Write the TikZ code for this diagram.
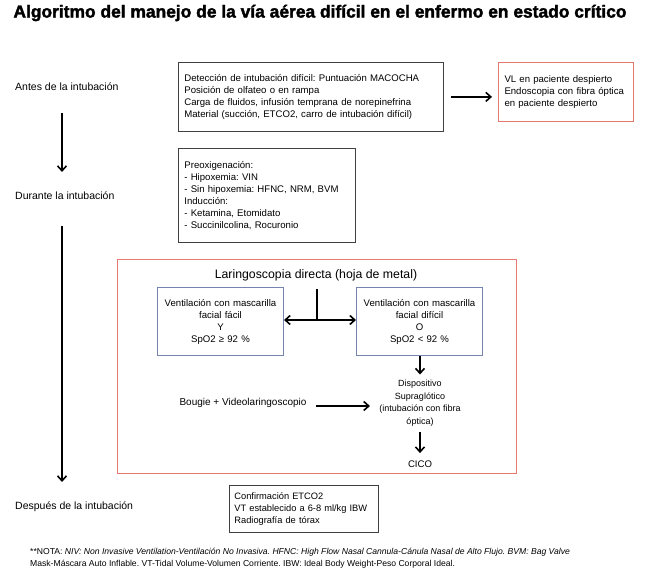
\documentclass[tikz,border=0pt]{standalone}
\usepackage{fontspec}
\setmainfont{Liberation Sans}
\newfontfamily\fuentetitulo[FakeBold=2]{Liberation Sans Bold}
\usepackage{tikz}
\usetikzlibrary{calc}
\usetikzlibrary{arrows.meta}
\frenchspacing

\definecolor{rojocaja}{RGB}{232,120,110}
\definecolor{azulcaja}{RGB}{118,130,178}

\newcommand{\cuerpo}{\fontsize{9.6}{12}\selectfont}

\begin{document}
\begin{tikzpicture}[x=1pt,y=-1pt]
    \tikzstyle{flecha}=[-{Straight Barb[length=5pt,width=9pt]},line width=1.6pt,color=black]
    \tikzstyle{doble flecha}=[{Straight Barb[length=5pt,width=9pt]}-{Straight Barb[length=5pt,width=9pt]},line width=1.6pt,color=black]
    \tikzstyle{linea}=[line width=1.6pt,color=black]
    \tikzstyle{caja}=[draw=black!75,line width=0.8pt,align=left,anchor=north west,inner xsep=6pt,font=\cuerpo]
    \tikzstyle{caja roja}=[style=caja,draw=rojocaja,line width=1pt]
    \tikzstyle{caja azul}=[style=caja,draw=azulcaja,line width=1pt,align=center]
    \tikzstyle{etapa}=[anchor=west,inner xsep=0pt,font=\fontsize{10.5}{12}\selectfont]
    \tikzstyle{texto}=[align=center,font=\cuerpo]

    \useasboundingbox (0,0) rectangle (646,577);

    % Title
    \node[font=\fuentetitulo\fontsize{17.4}{19}\selectfont] (titulo) at (320,13)
        {Algoritmo del manejo de la vía aérea difícil en el enfermo en estado crítico};

    % Stages
    \node[style=etapa] (antes) at (15,87) {Antes de la intubación};
    \node[style=etapa] (durante) at (15,196) {Durante la intubación};
    \node[style=etapa] (despues) at (15,507) {Después de la intubación};

    \draw[style=flecha] ([xshift=47pt,yshift=-26pt]antes.west) -- ([xshift=47pt,yshift=24pt]durante.west);
    \draw[style=flecha] ([xshift=47pt,yshift=-30pt]durante.west) -- ([xshift=47pt,yshift=25pt]despues.west);

    % Before
    \node[style=caja,text width=253pt,minimum height=69pt] (deteccion) at (178,62)
        {Detección de intubación difícil: Puntuación MACOCHA\\
         Posición de olfateo o en rampa\\
         Carga de fluidos, infusión temprana de norepinefrina\\
         Material (succión, ETCO2, carro de intubación difícil)};
    \node[style=caja roja,text width=123pt,minimum height=59pt] (despierto) at (498,62)
        {VL en paciente despierto\\
         Endoscopia con fibra óptica\\
         en paciente despierto};
    \draw[style=flecha,shorten <=7pt,shorten >=6pt] (deteccion.east) -- (deteccion.east -| despierto.west);

    % During
    \node[style=caja,text width=165pt,minimum height=94pt] (induccion) at (178,148)
        {Preoxigenación:\\
         - Hipoxemia: VIN\\
         - Sin hipoxemia: HFNC, NRM, BVM\\
         Inducción:\\
         - Ketamina, Etomidato\\
         - Succinilcolina, Rocuronio};

    \draw[rojocaja,line width=1pt] (117,260) rectangle (516,474);
    \node[font=\fontsize{12.3}{14}\selectfont] (laringo) at (316,275) {Laringoscopia directa (hoja de metal)};

    \node[style=caja azul,text width=114pt,minimum height=68pt] (facil) at (157,287)
        {Ventilación con mascarilla\\ facial fácil\\ Y\\ SpO2 ≥ 92 \%};
    \node[style=caja azul,text width=114pt,minimum height=68pt] (dificil) at (356,287)
        {Ventilación con mascarilla\\ facial difícil\\ O\\ SpO2 < 92 \%};

    \coordinate (union) at (317,320);
    \draw[style=linea] (laringo.south -| union) ++(0,5) -- (union);
    \draw[style=doble flecha] (facil.east |- union) -- (dificil.west |- union);

    \node[style=texto,font=\fontsize{9}{12.5}\selectfont] (supra) at (420,403)
        {Dispositivo\\ Supraglótico\\ (intubación con fibra\\ óptica)};
    \node[font=\fontsize{10}{12}\selectfont] (bougie) at (243,403) {Bougie + Videolaringoscopio};
    \node[style=texto] (cico) at (420,464) {CICO};

    \draw[style=flecha,shorten >=2pt] (dificil.south -| supra.north) -- (supra.north);
    \draw[style=flecha,shorten <=6pt,shorten >=6pt] ([yshift=-3pt]bougie.east) -- ([yshift=-3pt]bougie.east -| supra.west);
    \draw[style=flecha,shorten <=3pt,shorten >=4pt] (supra.south) -- (cico.north);

    % After
    \node[style=caja,inner xsep=5pt,text width=139pt,minimum height=47pt,font=\fontsize{9.3}{12}\selectfont] (confirmacion) at (229,485)
        {Confirmación ETCO2\\
         VT establecido a 6-8 ml/kg IBW\\
         Radiografía de tórax};

    % Note
    \node[anchor=north west,align=left,inner xsep=0pt,font=\fontsize{8.6}{12}\selectfont] (nota) at (30,545)
        {**NOTA: \itshape NIV: Non Invasive Ventilation-Ventilación No Invasiva. HFNC: High Flow Nasal Cannula-Cánula Nasal de Alto Flujo. BVM: Bag Valve\\
         Mask-Máscara Auto Inflable. VT-Tidal Volume-Volumen Corriente. IBW: Ideal Body Weight-Peso Corporal Ideal.};
\end{tikzpicture}
\end{document}
